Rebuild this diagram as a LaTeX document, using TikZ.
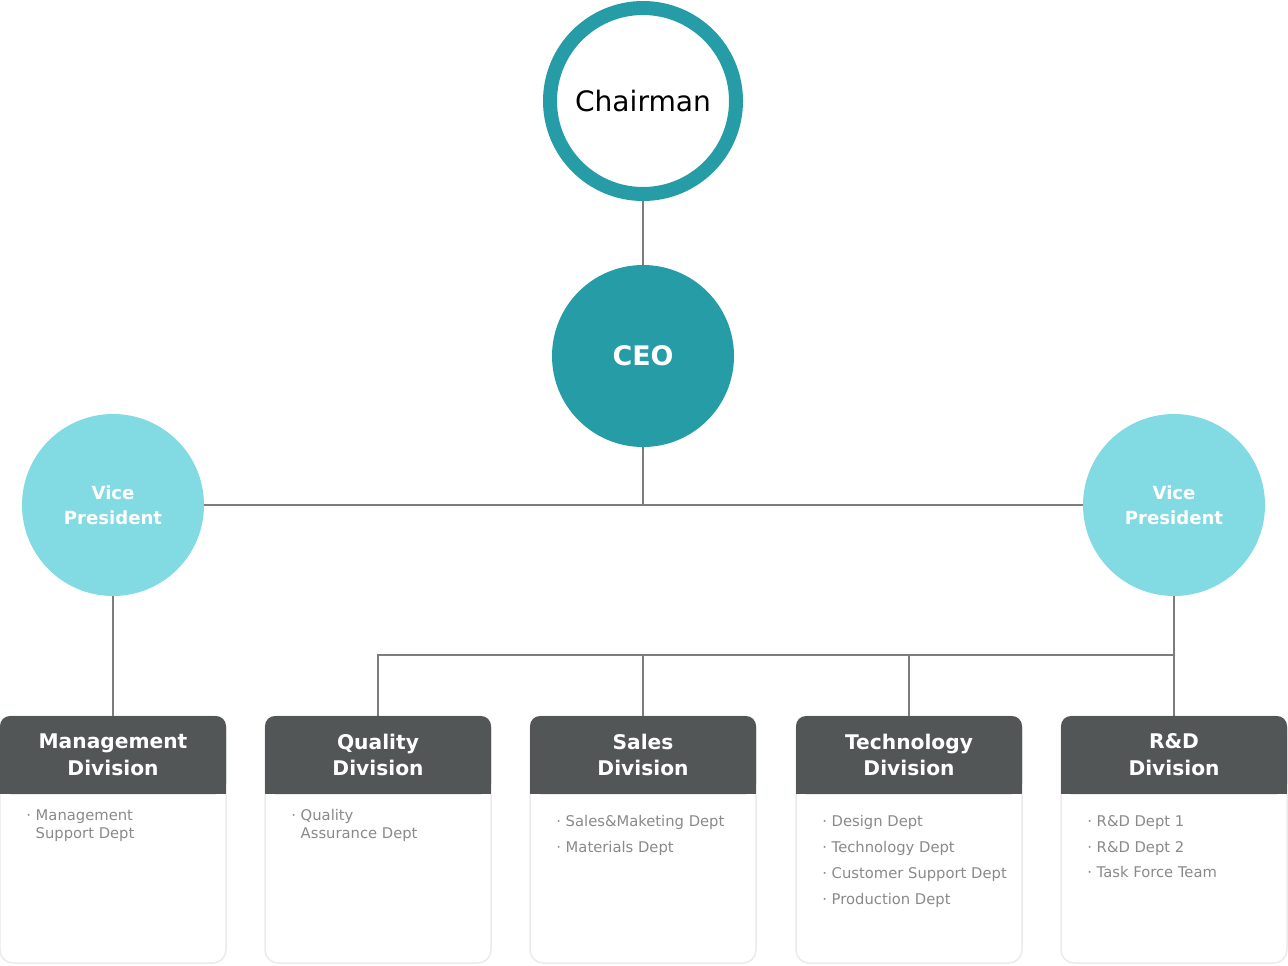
\documentclass[tikz,border=0pt]{standalone}
\usepackage{fontspec}
\setmainfont{DejaVu Sans}
\usepackage{xcolor}
\definecolor{ceoteal}{HTML}{259CA6}
\definecolor{vpcyan}{HTML}{82DBE3}
\definecolor{hdrgray}{HTML}{535657}
\definecolor{deptgray}{HTML}{8A8A8A}
\definecolor{cardline}{HTML}{EBEBEB}
\definecolor{linkgray}{HTML}{7D7D7D}
\usetikzlibrary{positioning}

\begin{document}
\begin{tikzpicture}[x=0.2mm,y=-0.2mm,
  chair/.style={circle,draw=ceoteal,line width=2.8mm,fill=white,minimum size=37.2mm,inner sep=0pt,
    font=\fontsize{16}{18}\selectfont},
  ceo/.style={circle,fill=ceoteal,minimum size=36.4mm,inner sep=0pt,text=white,
    font=\bfseries\fontsize{15.3}{18}\selectfont},
  vp/.style={circle,fill=vpcyan,minimum size=36.4mm,inner sep=0pt,text=white,align=center,
    font=\bfseries\fontsize{10.3}{14}\selectfont},
  card/.style={draw=cardline,line width=0.3mm,fill=white,rounded corners=2.6mm,minimum width=45.2mm,
    minimum height=49.4mm,anchor=north,inner sep=0pt,outer sep=0pt},
  hdr/.style={fill=hdrgray,rounded corners=2mm,minimum width=45.2mm,minimum height=15.6mm,inner sep=0pt,
    outer sep=0pt,text=white,align=center,font=\bfseries\fontsize{11.5}{15.3}\selectfont},
  dept/.style={inner sep=0pt,text=deptgray,align=left,font=\fontsize{8.4}{14.7}\selectfont},
  depttight/.style={dept,font=\fontsize{8.4}{10.2}\selectfont},
  link/.style={draw=linkgray,line width=0.4mm}]
  \useasboundingbox (0,0) rectangle (1288,965);

  \node[chair] (chair) at (643,101) {Chairman};
  \node[ceo] (ceo) at (643,356) {CEO};
  \node[vp] (vpl) at (113,505) {Vice\\President};
  \node[vp] (vpr) at (1174,505) {Vice\\President};

  % division cards
  \foreach \cx/\nm/\ttl in {113/mg/Management,378/qa/Quality,643/sl/Sales,909/tc/Technology,1174/rd/R\&D}{
    \node[card] (\nm) at (\cx,716) {};
    \fill[hdrgray] ([yshift=-8mm]\nm.north west) rectangle ([yshift=-15.6mm]\nm.north east);
    \node[hdr,below=0pt of \nm.north] (\nm h) {\ttl\\Division};
  }

  \node[depttight,below right=18.6mm and 5.2mm of mg.north west] (mgd) {· Management\\\phantom{· }Support Dept};
  \node[depttight,below right=18.6mm and 5.2mm of qa.north west] (qad) {· Quality\\\phantom{· }Assurance Dept};
  \node[dept,below right=19.8mm and 5.2mm of sl.north west] (sld) {· Sales\&Maketing Dept\\· Materials Dept};
  \node[dept,below right=19.8mm and 5.2mm of tc.north west] (tcd)
    {· Design Dept\\· Technology Dept\\· Customer Support Dept\\· Production Dept};
  \node[dept,below right=19.8mm and 5.2mm of rd.north west] (rdd) {· R\&D Dept 1\\· R\&D Dept 2\\· Task Force Team};

  \coordinate (bus) at (1174,655);
  \draw[link] (chair) -- (ceo);
  \draw[link] (vpl) -- (vpr);
  \draw[link] (ceo) -- (ceo |- vpl);
  \draw[link] (vpl) -- (mgh);
  \draw[link] (vpr) -- (rdh);
  \draw[link] (qah) |- (bus);
  \draw[link] (slh) -- (slh |- bus);
  \draw[link] (tch) -- (tch |- bus);
\end{tikzpicture}
\end{document}
